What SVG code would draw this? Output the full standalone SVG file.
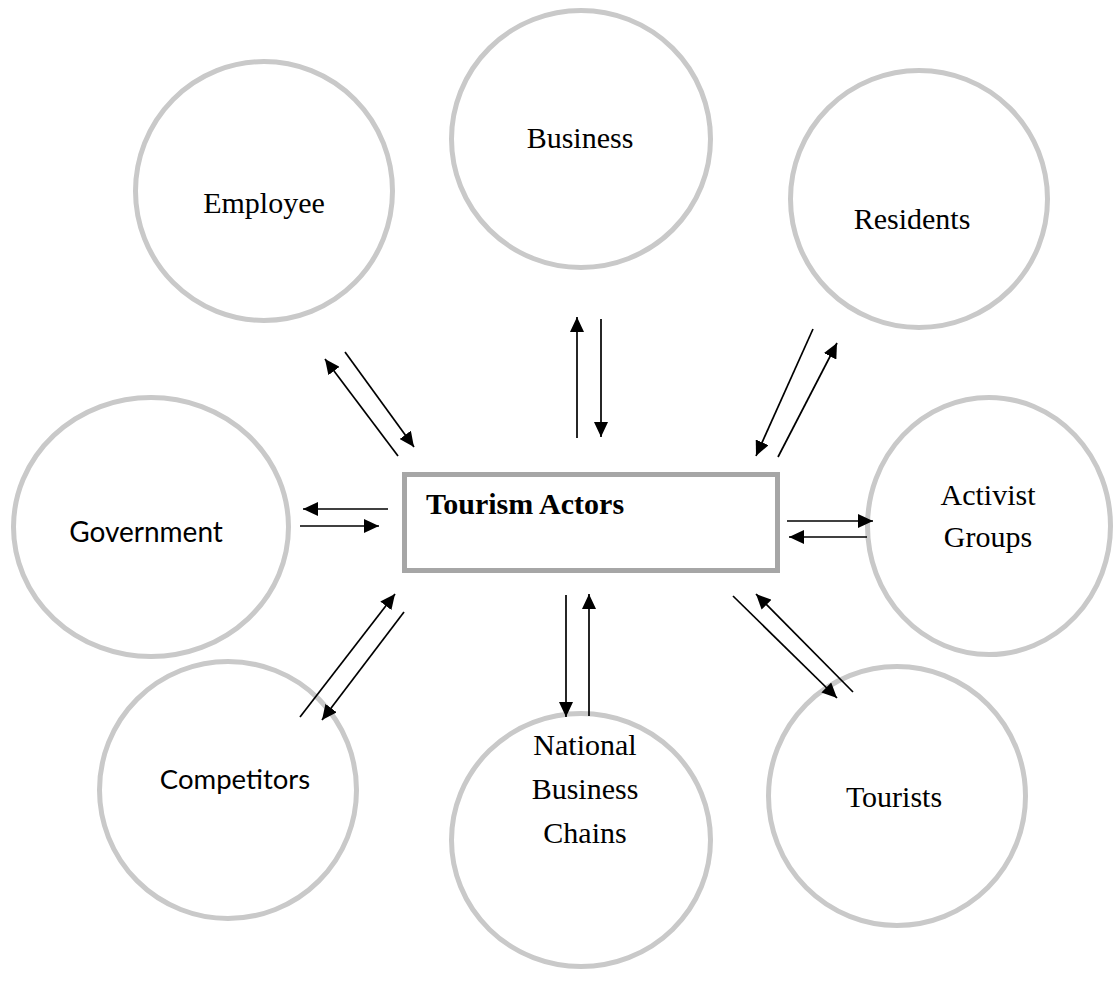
<svg xmlns="http://www.w3.org/2000/svg" width="1119" height="1000" viewBox="0 0 1119 1000">
  <style>
    .actor { fill: #ffffff; stroke: #c9c9c9; stroke-width: 5; }
    .hub { fill: #ffffff; stroke: #a6a6a6; stroke-width: 5; }
    .serif { font-family: "Liberation Serif", "Times New Roman", serif; font-size: 30px; fill: #000000; text-anchor: middle; }
    .sans { font-family: Lato, "Liberation Sans", sans-serif; font-size: 28px; fill: #000000; text-anchor: middle; }
    .title { font-family: "Liberation Serif", "Times New Roman", serif; font-size: 30px; font-weight: bold; fill: #000000; }
    .flow { stroke: #000000; stroke-width: 1.7; fill: none; marker-end: url(#head); }
  </style>
  <defs>
    <marker id="head" markerUnits="userSpaceOnUse" markerWidth="16" markerHeight="14" refX="15" refY="7" orient="auto">
      <path d="M0,0 L15,7 L0,14 Z" fill="#000000"/>
    </marker>
  </defs>
  <rect width="1119" height="1000" fill="#ffffff"/>

  <g id="business">
    <ellipse class="actor" cx="581" cy="139" rx="129.5" ry="128.5"/>
    <text class="serif" x="580" y="148">Business</text>
  </g>
  <g id="employee">
    <ellipse class="actor" cx="264" cy="191" rx="128.5" ry="129.5"/>
    <text class="serif" x="264" y="213">Employee</text>
  </g>
  <g id="residents">
    <ellipse class="actor" cx="919" cy="199" rx="128.5" ry="128.5"/>
    <text class="serif" x="912" y="229">Residents</text>
  </g>
  <g id="government">
    <ellipse class="actor" cx="151" cy="527" rx="137.5" ry="129.5"/>
    <text class="sans" x="146" y="542">Government</text>
  </g>
  <g id="activist-groups">
    <ellipse class="actor" cx="989" cy="526" rx="121.5" ry="128.5"/>
    <text class="serif" x="988" y="505">Activist</text>
    <text class="serif" x="988" y="547">Groups</text>
  </g>
  <g id="competitors">
    <ellipse class="actor" cx="228" cy="790" rx="128.5" ry="128.5"/>
    <text class="sans" x="235" y="789" style="font-size:27.5px">Competitors</text>
  </g>
  <g id="national-business-chains">
    <ellipse class="actor" cx="581" cy="840" rx="129.5" ry="126.5"/>
    <text class="serif" x="585" y="755">National</text>
    <text class="serif" x="585" y="799">Business</text>
    <text class="serif" x="585" y="843">Chains</text>
  </g>
  <g id="tourists">
    <ellipse class="actor" cx="897" cy="796" rx="128.5" ry="129.5"/>
    <text class="serif" x="894" y="807">Tourists</text>
  </g>

  <g id="tourism-actors">
    <rect class="hub" x="404.5" y="474.5" width="373" height="96"/>
    <text class="title" x="426" y="514">Tourism Actors</text>
  </g>

  <g id="connectors">
    <!-- Employee -->
    <line class="flow" x1="398" y1="456" x2="325" y2="359"/>
    <line class="flow" x1="345" y1="352" x2="414" y2="447"/>
    <!-- Business -->
    <line class="flow" x1="577" y1="438" x2="577" y2="317"/>
    <line class="flow" x1="601" y1="319" x2="601" y2="437"/>
    <!-- Residents -->
    <line class="flow" x1="813" y1="329" x2="756" y2="456"/>
    <line class="flow" x1="778" y1="457" x2="837" y2="343"/>
    <!-- Government -->
    <line class="flow" x1="388" y1="509" x2="303" y2="509"/>
    <line class="flow" x1="300" y1="526" x2="379" y2="526"/>
    <!-- Activist Groups -->
    <line class="flow" x1="787" y1="521" x2="873" y2="521"/>
    <line class="flow" x1="867" y1="537" x2="789" y2="537"/>
    <!-- Competitors -->
    <line class="flow" x1="300" y1="717" x2="395" y2="594"/>
    <line class="flow" x1="404" y1="612" x2="322" y2="720"/>
    <!-- National Business Chains -->
    <line class="flow" x1="566" y1="595" x2="566" y2="717"/>
    <line class="flow" x1="589" y1="716" x2="589" y2="594"/>
    <!-- Tourists -->
    <line class="flow" x1="733" y1="596" x2="837" y2="698"/>
    <line class="flow" x1="853" y1="692" x2="756" y2="594"/>
  </g>
</svg>
